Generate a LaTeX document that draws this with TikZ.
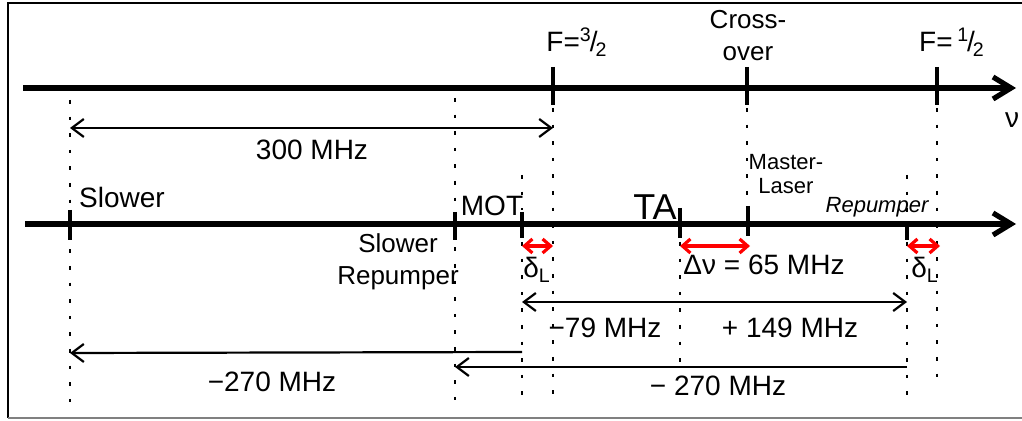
\documentclass[tikz,border=0pt]{standalone}
\usepackage{fontspec}
\setmainfont{Liberation Sans}
\usepackage{tikz}
\usetikzlibrary{arrows.meta,positioning}

\begin{document}
\begin{tikzpicture}[
  x=0.5pt, y=-0.5pt,
  axis/.style={line width=2.6pt, -{Straight Barb[length=9pt, width=11pt]}},
  tick/.style={line width=1.6pt},
  guide/.style={line width=1.1pt, dash pattern=on 1.8pt off 6.5pt},
  dim/.style={line width=1.1pt, -{Straight Barb[length=6pt, width=9pt]}},
  dimb/.style={line width=1.1pt, {Straight Barb[length=6pt, width=9pt]}-{Straight Barb[length=6pt, width=9pt]}},
  reddim/.style={red, line width=1.6pt, {Straight Barb[length=4pt, width=7pt]}-{Straight Barb[length=4pt, width=7pt]}},
  lbl/.style={font=\fontsize{14}{15}\selectfont, inner sep=1pt},
  lblsm/.style={font=\fontsize{11}{12}\selectfont, inner sep=1pt, align=center},
  every node/.style={font=\fontsize{13}{14}\selectfont}
]
\useasboundingbox (0,0) rectangle (1022,421);
% frame
\draw[line width=0.8pt] (1022,3) -- (8,3) -- (8,418);
\draw[line width=1.2pt, gray] (8,418) -- (1022,418);

% axes
\coordinate (top0) at (23,88);
\coordinate (top1) at (1016,88);
\coordinate (bot0) at (25,224);
\coordinate (bot1) at (1016,224);
\draw[axis] (top0) -- (top1);
\draw[axis] (bot0) -- (bot1);
\node[lbl] (nu) at (1012,120) {ν};

% transitions (top axis)
\coordinate (F32) at (553,88);
\coordinate (CO) at (747,88);
\coordinate (F12) at (937,88);
\draw[tick] (553,67) -- (553,105);
\draw[tick] (747,67) -- (747,105);
\draw[tick] (937,67) -- (937,105);
\node[lbl] (lblF32) at (577,42) {F=\textsuperscript{3}\kern-1pt/\kern-1pt\textsubscript{2}};
\node[lbl, align=center, font=\fontsize{13}{16}\selectfont] (lblCO) at (748,36) {Cross-\\over};
\node[lbl] (lblF12) at (952,42) {F=\,\textsuperscript{1}\kern-1pt/\kern-1pt\textsubscript{2}};

% lasers (bottom axis)
\draw[tick] (70,210) -- (70,240);
\draw[tick] (455,212) -- (455,240);
\draw[tick] (522,212) -- (522,238);
\draw[tick] (680,208) -- (680,238);
\draw[tick] (748,206) -- (748,236);
\draw[tick] (907,222) -- (907,240);
\node[lbl] (lblSl) at (122,197) {Slower};
\node[lbl] (lblMOT) at (492,206) {MOT};
\node[lbl, font=\fontsize{18}{18}\selectfont] (lblTA) at (655,207) {TA};
\node[lblsm] (lblML) at (786,174) {Master-\\Laser};
\node[lblsm, font=\itshape\fontsize{11}{12}\selectfont] (lblRP) at (877,207) {Repumper};
\node[lbl, align=center, font=\fontsize{13}{16}\selectfont] (lblSR) at (398,262) {Slower\\Repumper};

% dotted guides
\draw[guide] (70,100) -- (70,415);
\draw[guide] (455,98) -- (455,400);
\draw[guide] (553,108) -- (553,395);
\draw[guide] (522,175) -- (522,210) (522,242) -- (522,398);
\draw[guide] (680,242) -- (680,372);
\draw[guide] (747,108) -- (747,204);
\draw[guide] (907,175) -- (907,220) (907,242) -- (907,398);
\draw[guide] (937,108) -- (937,385);

% detunings
\coordinate (a300) at (70,128);
\coordinate (b300) at (553,128);
\draw[dimb] (a300) -- (b300);
\node[lbl] (lbl300) at (312,150) {300 MHz};

\coordinate (dA) at (522,246);
\coordinate (dB) at (553,246);
\draw[reddim] (dA) -- (dB);
\node[lbl] (lbldL1) at (537,270) {δ\textsubscript{L}};
\coordinate (nA) at (680,246);
\coordinate (nB) at (750,246);
\draw[reddim] (nA) -- (nB);
\node[lbl] (lblDnu) at (764,265) {Δν = 65 MHz};
\coordinate (rA) at (907,246);
\coordinate (rB) at (940,246);
\draw[reddim] (rA) -- (rB);
\node[lbl] (lbldL2) at (925,270) {δ\textsubscript{L}};

\coordinate (mTA) at (680,302);
\coordinate (mMOT) at (522,302);
\coordinate (mRP) at (907,302);
\draw[dim] (mTA) -- (mMOT);
\draw[dim] (mTA) -- (mRP);
\node[lbl] (lbl79) at (605,328) {−79 MHz};
\node[lbl] (lbl149) at (790,328) {+ 149 MHz};

\coordinate (sMOT) at (522,352);
\coordinate (sSl) at (70,353);
\draw[dim] (sMOT) -- (sSl);
\node[lbl] (lbl270a) at (272,382) {−270 MHz};
\coordinate (sRP) at (907,367);
\coordinate (sSR) at (455,367);
\draw[dim] (sRP) -- (sSR);
\node[lbl] (lbl270b) at (718,386) {− 270 MHz};
\end{tikzpicture}
\end{document}
